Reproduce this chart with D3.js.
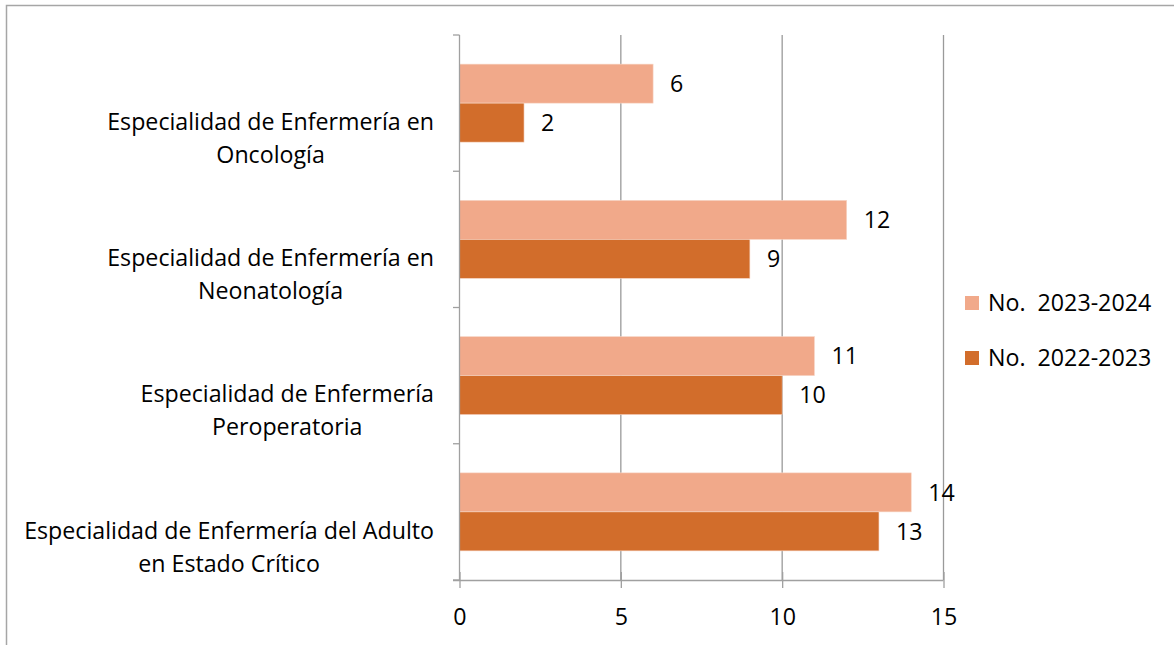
<!DOCTYPE html>
<html><head><meta charset="utf-8">
<script src="https://cdn.jsdelivr.net/npm/d3@7"></script>
<style>
html,body{margin:0;padding:0;background:#fff;}
text{font-family:"Open Sans",sans-serif;fill:#000;}
</style></head>
<body>
<svg id="chart" width="1174" height="645"></svg>
<script>
const categories = [
  ["Especialidad de Enfermería en","Oncología"],
  ["Especialidad de Enfermería en","Neonatología"],
  ["Especialidad de Enfermería","Peroperatoria"],
  ["Especialidad de Enfermería del Adulto","en Estado Crítico"]
];
const seriesNames = ["No.  2023-2024","No.  2022-2023"];
const values2324 = [6,12,11,14];
const values2223 = [2,9,10,13];
const xTicks = [0,5,10,15];
const colors = ["#F1A98A","#D26D2B"];

const svg = d3.select("#chart");

// fit font size so that longest category line spans ~410px
const probe = svg.append("text").attr("font-size",20).text("Especialidad de Enfermería del Adulto");
const w20 = probe.node().getComputedTextLength();
probe.remove();
const fs = Math.max(18, Math.min(24, 20*410/w20));

// outer border
svg.append("rect").attr("x",6.5).attr("y",5.5).attr("width",1200).attr("height",700)
  .attr("fill","none").attr("stroke","#A6A6A6").attr("stroke-width",1.5);

const x = d3.scaleLinear().domain([0,15]).range([459.5,943.5]);
const y = d3.scaleBand().domain(d3.range(categories.length)).range([35,580]).paddingInner(0).paddingOuter(0);
const barH = 39;

// gridlines
svg.append("g").selectAll("line").data(xTicks.slice(1)).join("line")
  .attr("x1",d=>x(d)).attr("x2",d=>x(d)).attr("y1",35).attr("y2",580)
  .attr("stroke","#9A9A9A").attr("stroke-width",1.3);

const data = categories.map((c,i)=>({i, vals:[values2324[i], values2223[i]]}));

const g = svg.append("g");
data.forEach(d=>{
  const bandCenter = y(d.i) + y.bandwidth()/2;
  d.vals.forEach((v,k)=>{
    const top = bandCenter - barH + k*barH;
    g.append("rect").attr("x",x(0)).attr("y",top).attr("width",x(v)-x(0)).attr("height",barH)
      .attr("fill",colors[k]).attr("stroke","#F7D6C6").attr("stroke-width",0.6);
    g.append("text").attr("x",x(v)+17).attr("y",top+barH/2+fs*0.36).attr("font-size",fs).text(v);
  });
});

// y axis
svg.append("line").attr("x1",459.5).attr("x2",459.5).attr("y1",35).attr("y2",580)
  .attr("stroke","#A0A0A0").attr("stroke-width",1.3);
const yEdges = d3.range(categories.length+1).map(i=>35 + i*y.bandwidth());
svg.append("g").selectAll("line").data(yEdges).join("line")
  .attr("x1",453).attr("x2",459.5).attr("y1",d=>d).attr("y2",d=>d)
  .attr("stroke","#A0A0A0").attr("stroke-width",1.3);

// x axis
const xAxis = d3.axisBottom(x).tickValues(xTicks).tickSize(8).tickPadding(14).tickFormat(d3.format("d"));
const xg = svg.append("g").attr("transform","translate(0,580)").call(xAxis);
xg.select(".domain").attr("d","M453,0.5H943.5").attr("stroke","#A0A0A0").attr("stroke-width",1.3);
xg.selectAll(".tick line").attr("stroke","#A0A0A0").attr("stroke-width",1.3).attr("y1",-8).attr("y2",8);
xg.selectAll(".tick text").attr("font-size",fs).attr("font-family","'Open Sans',sans-serif").attr("fill","#000")
  .attr("dy",null).attr("y",null).attr("transform","translate(0,45)");

// category labels
const labelRight = 434;
categories.forEach((lines,i)=>{
  const cy = y(i) + y.bandwidth()/2 + 35;
  const grp = svg.append("g");
  const texts = lines.map((l,j)=>grp.append("text").attr("font-size",fs).attr("text-anchor","middle")
     .attr("y", cy + (j - (lines.length-1)/2)*33 + fs*0.36).text(l));
  const maxW = d3.max(texts, t=>t.node().getComputedTextLength());
  texts.forEach(t=>t.attr("x", labelRight - maxW/2));
});

// legend
const leg = svg.append("g");
seriesNames.forEach((n,k)=>{
  const ly = 303 + k*55;
  leg.append("rect").attr("x",965).attr("y",ly-7).attr("width",14).attr("height",14).attr("fill",colors[k]);
  leg.append("text").attr("x",988).attr("y",ly+fs*0.36).attr("font-size",fs).attr("xml:space","preserve")
    .style("white-space","pre").text(n);
});
</script>
</body></html>
